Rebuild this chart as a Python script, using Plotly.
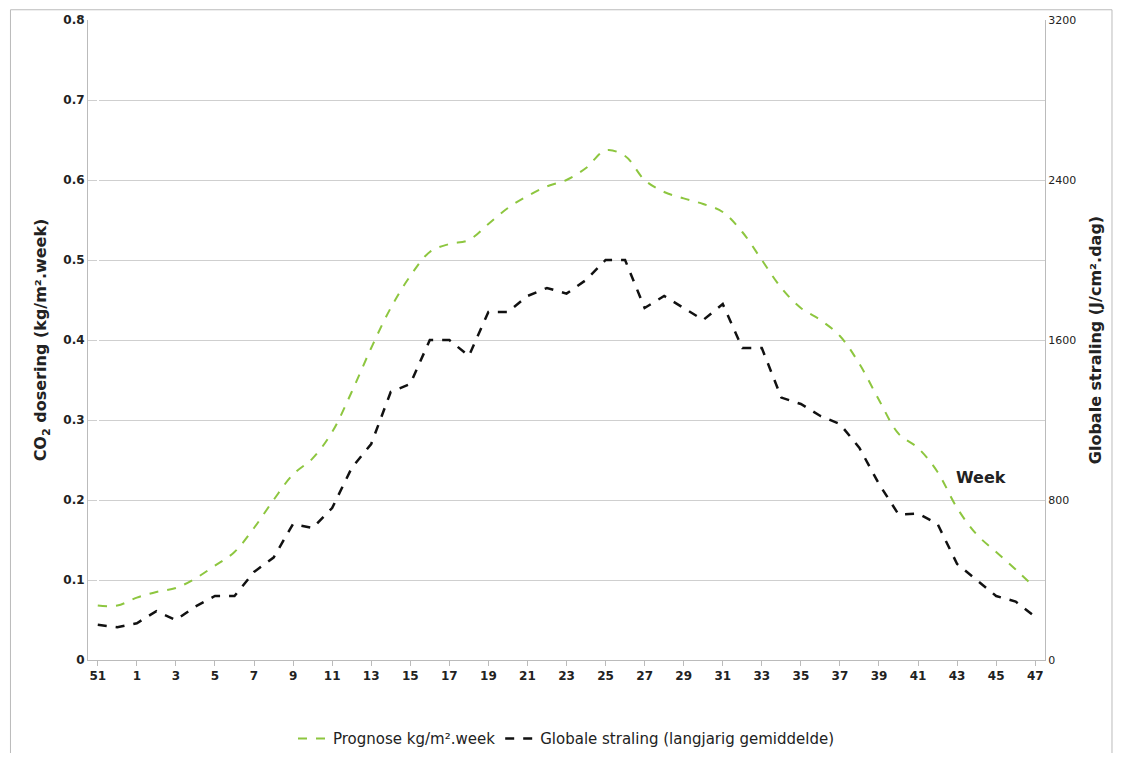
import plotly.graph_objects as go

weeks = [51, 52] + list(range(1, 48))
prognose = [0.068, 0.068, 0.078, 0.085, 0.09, 0.102, 0.118, 0.135, 0.165, 0.2,
            0.232, 0.252, 0.285, 0.335, 0.39, 0.44, 0.48, 0.51, 0.52, 0.525,
            0.545, 0.565, 0.58, 0.592, 0.6, 0.615, 0.637, 0.63, 0.6, 0.585,
            0.577, 0.57, 0.56, 0.535, 0.5, 0.465, 0.44, 0.425, 0.405, 0.37,
            0.325, 0.283, 0.265, 0.235, 0.19, 0.157, 0.135, 0.113, 0.09]
straling = [176, 164, 184, 244, 200, 268, 320, 320, 440, 512,
            680, 660, 760, 960, 1080, 1340, 1380, 1600, 1600, 1520,
            1740, 1740, 1820, 1860, 1832, 1900, 2000, 2000, 1760, 1820,
            1760, 1700, 1780, 1560, 1560, 1312, 1280, 1220, 1180, 1060,
            880, 728, 732, 680, 480, 400, 320, 292, 216]
xlabels = [str(w) for w in weeks]
left_ticks = [0, 0.1, 0.2, 0.3, 0.4, 0.5, 0.6, 0.7, 0.8]
right_ticks = [0, 800, 1600, 2400, 3200]

fig = go.Figure()
fig.add_trace(go.Scatter(x=list(range(len(weeks))), y=prognose, mode="lines",
                         name="Prognose kg/m².week",
                         line=dict(color="#8dc63f", width=2, dash="dash", shape="spline")))
fig.add_trace(go.Scatter(x=list(range(len(weeks))), y=straling, mode="lines",
                         name="Globale straling (langjarig gemiddelde)", yaxis="y2",
                         line=dict(color="#111111", width=2.5, dash="dash")))

tickfont = dict(family="Verdana, DejaVu Sans", size=12, color="#222")
# page has ~8px body margin, so the figure is a bit smaller than the window
fig.update_layout(
    width=1108, height=745, paper_bgcolor="white", plot_bgcolor="white",
    margin=dict(l=80, r=71, t=12, b=93, autoexpand=False),
    font=dict(family="Verdana, DejaVu Sans", color="#222"),
    xaxis=dict(tickmode="array", tickvals=list(range(0, len(weeks), 2)),
               ticktext=["<b>%s</b>" % t for t in xlabels[::2]],
               range=[-0.5, len(weeks) - 0.5],
               tickfont=tickfont, showgrid=False, showline=True, linecolor="#bbb",
               ticks="outside", ticklen=5, tickcolor="#bbb"),
    yaxis=dict(range=[0, 0.8], tickmode="array", tickvals=left_ticks,
               ticktext=["<b>%s</b>" % ("0" if v == 0 else "%.1f" % v) for v in left_ticks],
               tickfont=tickfont, automargin=False,
               gridcolor="#cfcfcf", showline=True, linecolor="#bbb", zeroline=False,
               title=dict(text="<b>CO<sub>2</sub> dosering (kg/m².week)</b>",
                          font=dict(size=16), standoff=12)),
    yaxis2=dict(range=[0, 3200], overlaying="y", side="right", tickmode="array",
                tickvals=right_ticks, ticktext=[str(v) for v in right_ticks],
                tickfont=dict(family="Verdana, DejaVu Sans", size=11, color="#222"),
                showgrid=False, showline=True, linecolor="#bbb", automargin=False,
                zeroline=False,
                title=dict(text="<b>Globale straling (J/cm².dag)</b>", font=dict(size=16),
                           standoff=14)),
    legend=dict(orientation="h", x=0.5, xanchor="center", y=-0.123, yanchor="middle",
                font=dict(size=15)),
    annotations=[dict(text="<b>Week</b>", x=45.2, y=0.228, xref="x", yref="y",
                      showarrow=False, font=dict(size=16, color="#222"))],
    shapes=[dict(type="rect", xref="paper", yref="paper", x0=-0.081, x1=1.07,
                 y0=-0.2, y1=1.016, line=dict(color="#bbb", width=1))],
)
fig.write_html("out.html")
